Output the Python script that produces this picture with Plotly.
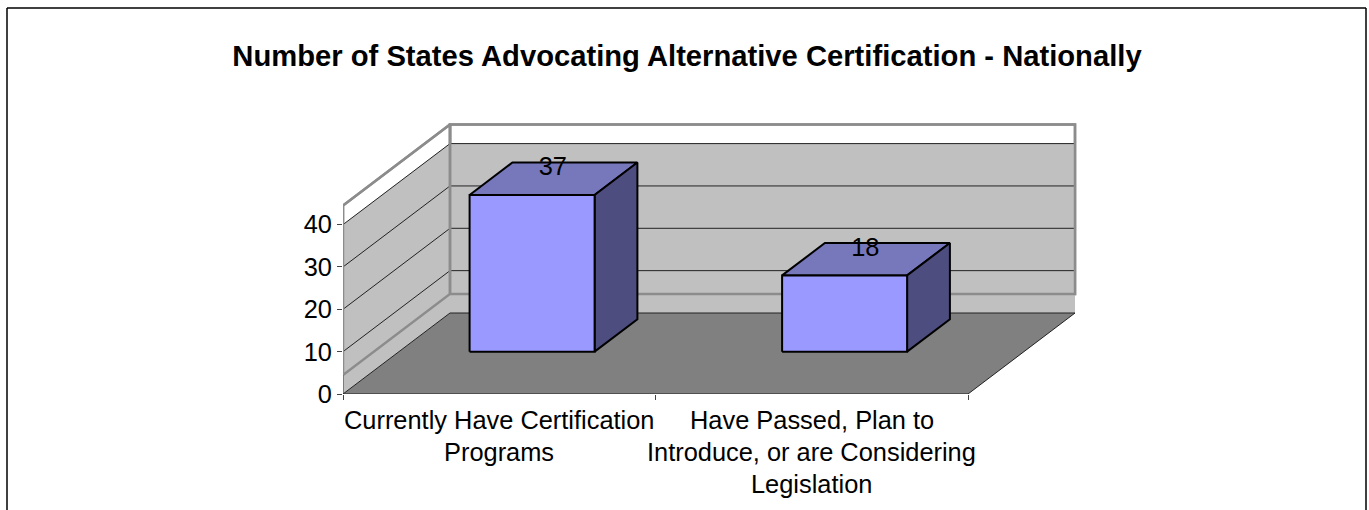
import plotly.graph_objects as go

# data
categories = [
    ["Currently Have Certification", "Programs"],
    ["Have Passed, Plan to", "Introduce, or are Considering", "Legislation"],
]
values = [37, 18]
y_ticks = [0, 10, 20, 30, 40]
title = "Number of States Advocating Alternative Certification - Nationally"

FONT = "Liberation Sans, Arial, sans-serif"
W, H = 1369, 510
L, R, T, B = 343, 1085, 100, 394   # plot area in pixels
PX_X = 312.5   # pixels per category
PX_Y = 4.235   # pixels per value unit

# fake 3D: oblique projection onto the flat axes
DX = 107 / PX_X    # x shift of the full depth
DY = 81 / PX_Y     # y shift of the full depth
LIFT = 19 / PX_Y   # wall frame sits this much above the floor
BAR_LIFT = 17.5 / PX_Y
LABEL_DROP = 2.5 / PX_Y
BAR_W = 0.4
BAR_Z = (0.307, 0.707)
N = len(values)
Y_MAX = y_ticks[-1]


def proj(x, v, z=0.0, lift=0.0):
    return x + z * DX, v + z * DY + lift


def poly(pts, fill=None, line="black", width=1.0):
    xs = [p[0] for p in pts]
    ys = [p[1] for p in pts]
    return go.Scatter(
        x=xs, y=ys, mode="lines", cliponaxis=False, showlegend=False, hoverinfo="skip",
        fill="toself" if fill else None, fillcolor=fill,
        line=dict(color=line, width=width),
    )


fig = go.Figure()

# white frame behind the walls, lifted
frame_back = [proj(0, 0, 1, LIFT), proj(N, 0, 1, LIFT), proj(N, Y_MAX, 1, LIFT), proj(0, Y_MAX, 1, LIFT), proj(0, 0, 1, LIFT)]
frame_left = [proj(0, 0, 0, LIFT), proj(0, 0, 1, LIFT), proj(0, Y_MAX, 1, LIFT), proj(0, Y_MAX, 0, LIFT), proj(0, 0, 0, LIFT)]
fig.add_trace(poly(frame_back, "white", "#8c8c8c", 2.5))
fig.add_trace(poly(frame_left, "white", "#8c8c8c", 2.5))

# walls
back = [proj(0, 0, 1), proj(N, 0, 1), proj(N, Y_MAX, 1), proj(0, Y_MAX, 1), proj(0, 0, 1)]
left = [proj(0, 0, 0), proj(0, 0, 1), proj(0, Y_MAX, 1), proj(0, Y_MAX, 0), proj(0, 0, 0)]
fig.add_trace(poly(back, "#c0c0c0", "rgba(0,0,0,0)", 0))
fig.add_trace(poly(left, "#c0c0c0", "rgba(0,0,0,0)", 0))

# gridlines on both walls
for v in y_ticks[1:]:
    fig.add_trace(poly([proj(0, v, 0), proj(0, v, 1), proj(N, v, 1)], None, "#222222", 1))

# frame lines stay visible over the walls
fig.add_trace(poly(frame_back, None, "#8c8c8c", 2.5))
fig.add_trace(poly(frame_left, None, "#8c8c8c", 2.5))
fig.add_trace(poly([proj(0, 0), proj(0, 0, 0, LIFT)], None, "#666666", 1.5))

# floor
floor = [proj(0, 0, 0), proj(N, 0, 0), proj(N, 0, 1), proj(0, 0, 1), proj(0, 0, 0)]
fig.add_trace(poly(floor, "#808080", "#222222", 1))

# bars
z0, z1 = BAR_Z
for i, v in enumerate(values):
    xa = i + 0.5 - BAR_W / 2
    xb = xa + BAR_W
    top = [proj(xa, v, z0, BAR_LIFT), proj(xb, v, z0, BAR_LIFT), proj(xb, v, z1, BAR_LIFT), proj(xa, v, z1, BAR_LIFT), proj(xa, v, z0, BAR_LIFT)]
    side = [proj(xb, 0, z0, BAR_LIFT), proj(xb, 0, z1, BAR_LIFT), proj(xb, v, z1, BAR_LIFT), proj(xb, v, z0, BAR_LIFT), proj(xb, 0, z0, BAR_LIFT)]
    front = [proj(xa, 0, z0, BAR_LIFT), proj(xb, 0, z0, BAR_LIFT), proj(xb, v, z0, BAR_LIFT), proj(xa, v, z0, BAR_LIFT), proj(xa, 0, z0, BAR_LIFT)]
    fig.add_trace(poly(top, "#7777bb", "black", 2))
    fig.add_trace(poly(side, "#4d4d80", "black", 2))
    fig.add_trace(poly(front, "#9999ff", "black", 2))

# value labels
lx, ly = zip(*[proj(i + 0.5, v, 0.5, BAR_LIFT - LABEL_DROP) for i, v in enumerate(values)])
fig.add_trace(go.Scatter(
    x=list(lx), y=list(ly), mode="text", text=[str(v) for v in values],
    textposition="top center", textfont=dict(family=FONT, size=25.4, color="black"),
    cliponaxis=False, showlegend=False, hoverinfo="skip",
))

# category labels, one annotation per line because the line gap is wider than plotly's
for i, lines in enumerate(categories):
    for j, text in enumerate(lines):
        fig.add_annotation(
            x=i + 0.5, xref="x", y=0, yref="y", text=text, showarrow=False,
            yanchor="middle", yshift=-(26 + 32 * j),
            font=dict(family=FONT, size=25.4, color="black"),
        )


def px(x):
    return (x - L) / (R - L)


def py(y):
    return (B - y) / (B - T)


# chart border, cut off at the bottom of the picture
for x0, y0, x1, y1 in [(7, 8, 7, 510), (7, 8, 1366, 8), (1366, 8, 1366, 510)]:
    fig.add_shape(type="line", xref="paper", yref="paper", x0=px(x0), x1=px(x1), y0=py(y0), y1=py(y1),
                  line=dict(color="black", width=1.5), layer="above")

fig.update_layout(
    width=W, height=H,
    margin=dict(l=L, r=W - R, t=T, b=H - B, pad=0),
    paper_bgcolor="white", plot_bgcolor="white",
    showlegend=False,
    title=dict(
        text=f"<b>{title}</b>", x=687 / W, xanchor="center", xref="container",
        y=1 - 56 / H, yanchor="middle", yref="container",
        font=dict(family=FONT, size=29.2, color="black"),
    ),
)
fig.update_xaxes(
    range=[0, (R - L) / PX_X], tickvals=[], showgrid=False, zeroline=False, showline=False,
    minor=dict(tickvals=list(range(N + 1)), ticks="outside", ticklen=5, tickcolor="#444444", tickwidth=1, showgrid=False),
)
fig.update_yaxes(
    range=[0, (B - T) / PX_Y], tickvals=y_ticks, ticks="outside", ticklen=5, tickcolor="#444444",
    tickfont=dict(family=FONT, size=25.4, color="black"), showgrid=False, zeroline=False, showline=False,
)

fig.write_html("out.html", config=dict(displayModeBar=False), post_script="document.body.style.margin='0';")
